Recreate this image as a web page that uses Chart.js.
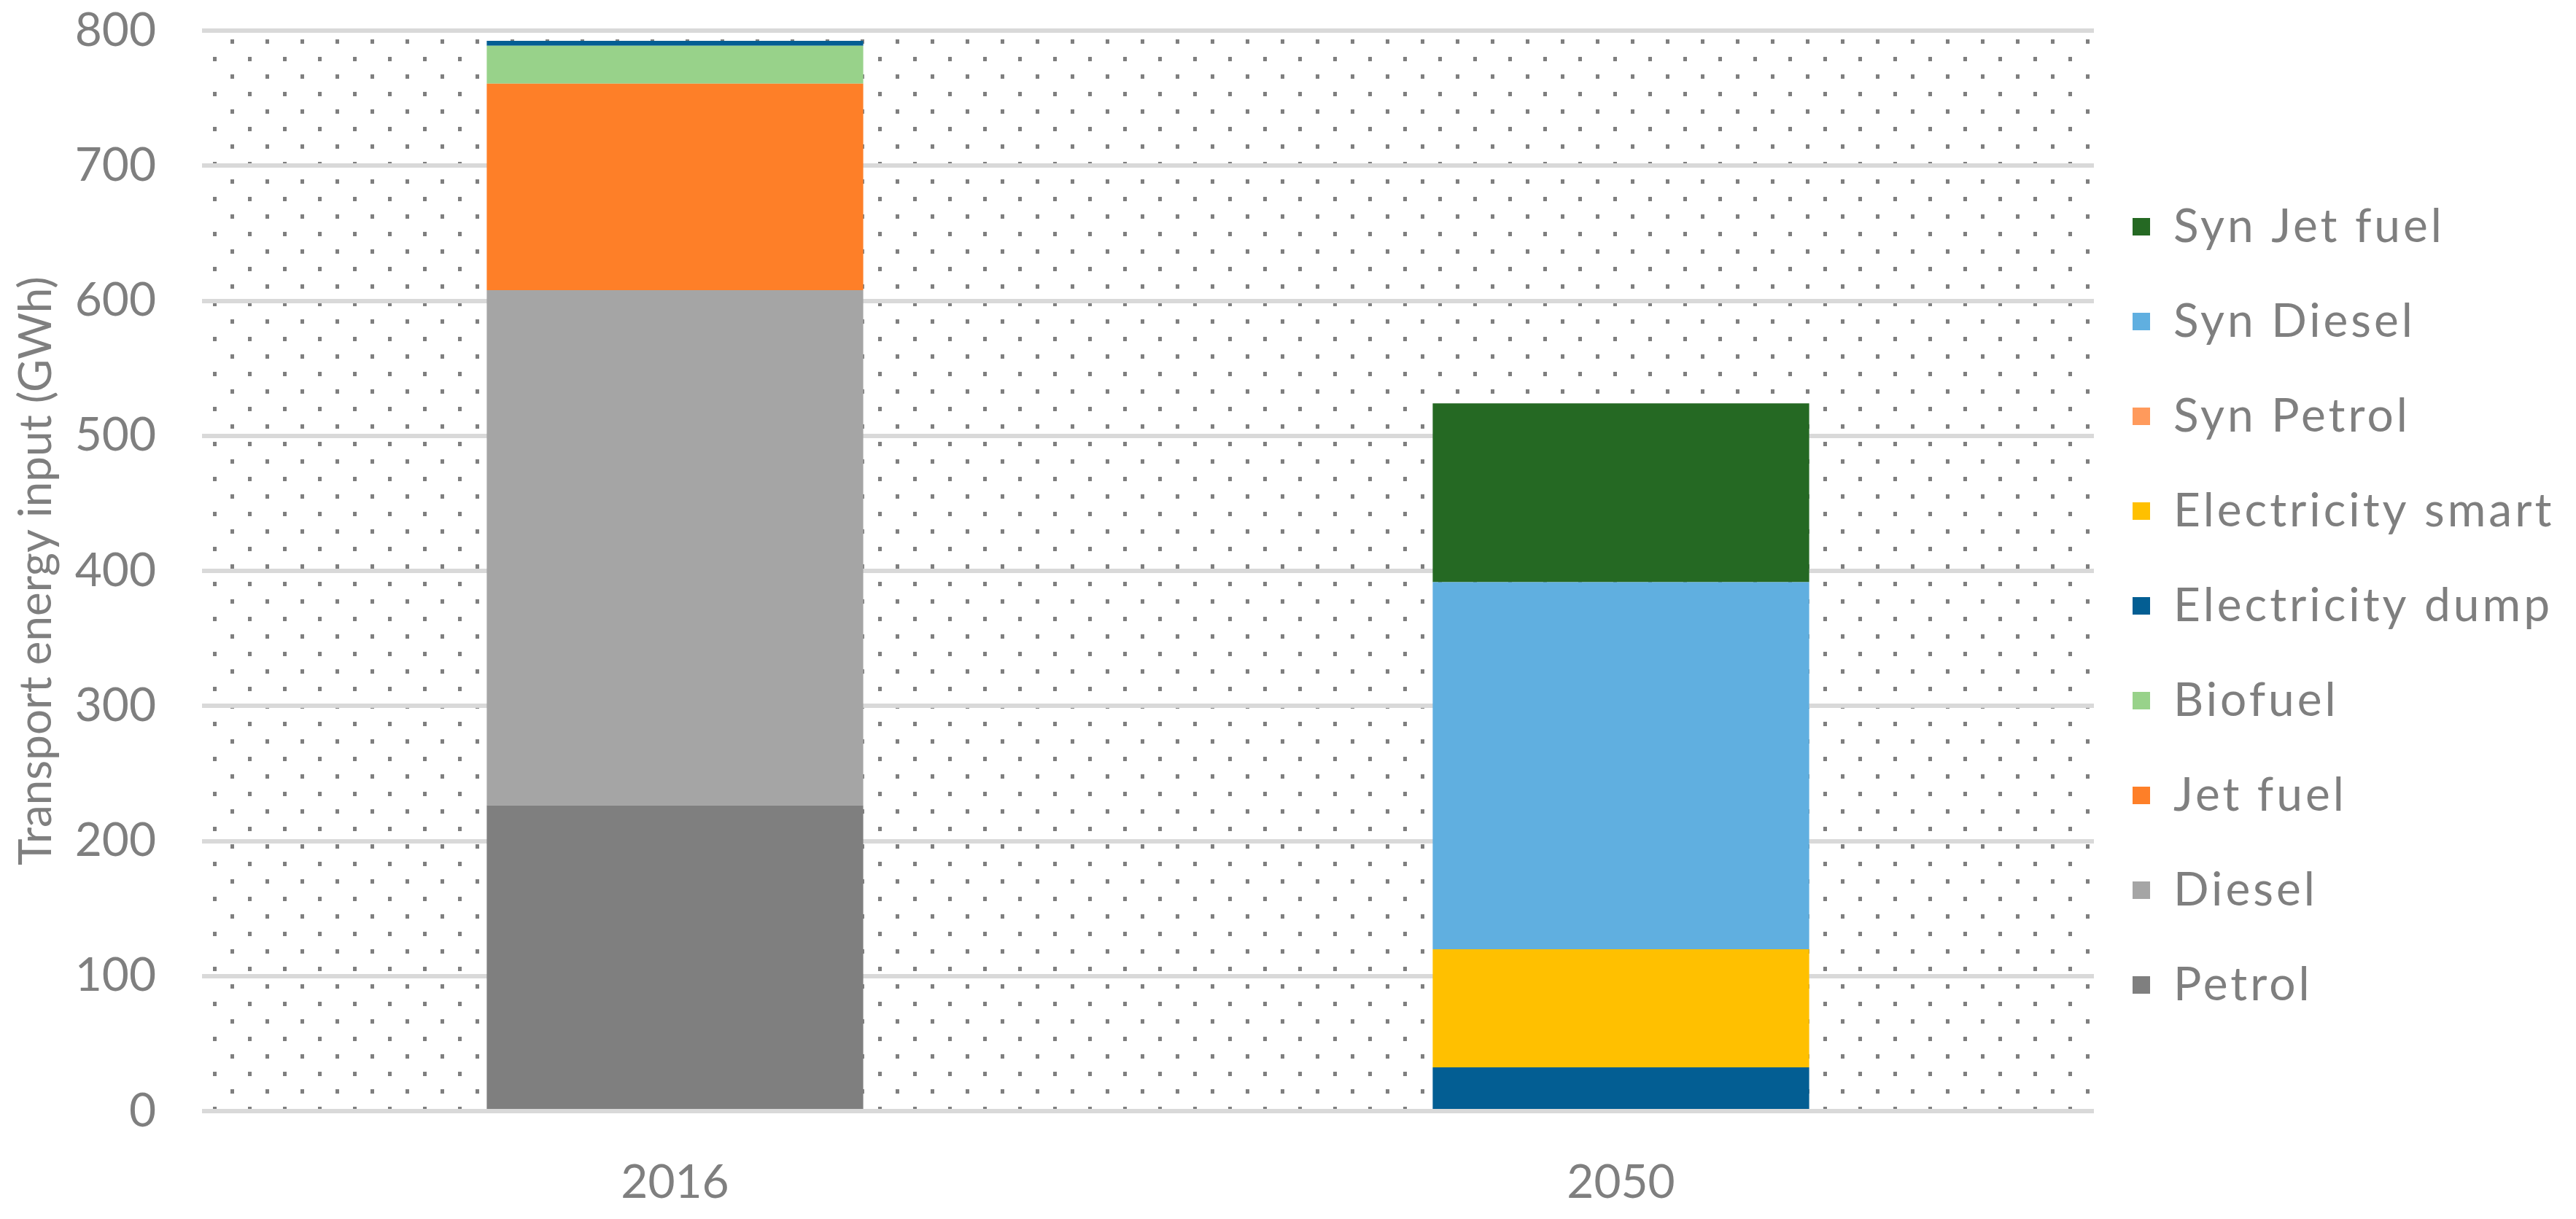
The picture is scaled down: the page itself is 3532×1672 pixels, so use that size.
<!DOCTYPE html>
<html>
<head>
<meta charset="utf-8">
<script src="https://cdn.jsdelivr.net/npm/chart.js@4.4.1/dist/chart.umd.min.js"></script>
<style>
  html, body { margin: 0; padding: 0; background: #ffffff; }
  #wrap { width: 3532px; height: 1672px; }
</style>
</head>
<body>
<div id="wrap"><canvas id="c" width="3532" height="1672"></canvas></div>
<script>
// ---- data ----
const categories = ['2016', '2050'];
const seriesNames = ['Petrol', 'Diesel', 'Jet fuel', 'Biofuel', 'Electricity dump',
                     'Electricity smart', 'Syn Petrol', 'Syn Diesel', 'Syn Jet fuel'];
const petrol           = [226.4, 0];
const diesel           = [381.4, 0];
const jetFuel          = [152.9, 0];
const biofuel          = [28.1, 0];
const electricityDump  = [3.7, 32.4];
const electricitySmart = [0, 87.5];
const synPetrol        = [0, 0];
const synDiesel        = [0, 271.8];
const synJetFuel       = [0, 132.3];
const yTickMin = 0, yTickMax = 800, yTickStep = 100;
const yTitle = 'Transport energy input (GWh)';

// ---- styles ----
const seriesColors = ['#7f7f7f', '#a5a5a5', '#fe7f28', '#98d28a', '#035e93',
                      '#ffc000', '#ff9a5c', '#60afe0', '#256923'];
const seriesData = [petrol, diesel, jetFuel, biofuel, electricityDump,
                    electricitySmart, synPetrol, synDiesel, synJetFuel];
const textColor = '#7f7f7f';
const fontFamily = 'Lato, "Open Sans", sans-serif';
const fontSize = 64;

const dotPattern = {
  id: 'dotPattern',
  beforeDraw(chart) {
    const { ctx, chartArea: a } = chart;
    ctx.save();
    ctx.fillStyle = '#ffffff';
    ctx.fillRect(0, 0, chart.width, chart.height);
    const tile = document.createElement('canvas');
    tile.width = 48; tile.height = 48;
    const t = tile.getContext('2d');
    t.fillStyle = '#7f7f7f';
    t.fillRect(28, 6, 5, 6);
    t.fillRect(4, 30, 5, 6);
    ctx.fillStyle = ctx.createPattern(tile, 'repeat');
    ctx.fillRect(a.left, a.top, a.right - a.left, a.bottom - a.top);
    ctx.restore();
  }
};

const legendLayout = {
  id: 'legendLayout',
  beforeLayout(chart) {
    const lg = chart.legend;
    if (lg && !lg._fixedFit) {
      const origFit = lg.fit;
      lg.fit = function () { origFit.call(this); this.width = 661; };
      const origDraw = lg.draw;
      lg.draw = function (...args) {
        const c = this.ctx;
        const prev = c.letterSpacing;
        c.letterSpacing = '4px';
        origDraw.apply(this, args);
        c.letterSpacing = prev;
      };
      lg._fixedFit = true;
    }
  },
  afterLayout(chart) {
    const lg = chart.legend;
    lg.top = 0; lg.bottom = 1662; lg.height = 1662;
    lg.left = 2858;
  }
};

new Chart(document.getElementById('c'), {
  type: 'bar',
  data: {
    labels: categories,
    datasets: seriesNames.map((name, i) => ({
      label: name,
      data: seriesData[i],
      backgroundColor: seriesColors[i],
      borderWidth: 0,
      barPercentage: 0.398,
      categoryPercentage: 1
    }))
  },
  options: {
    responsive: false,
    animation: false,
    devicePixelRatio: 1,
    layout: { padding: { top: 42, left: 0, right: 0, bottom: 0 } },
    plugins: {
      legend: {
        position: 'right',
        reverse: true,
        labels: {
          font: { family: fontFamily, size: fontSize },
          color: textColor,
          boxWidth: 24,
          boxHeight: 24,
          padding: 66
        }
      },
      tooltip: { enabled: false }
    },
    scales: {
      x: {
        stacked: true,
        grid: { display: false },
        border: { display: false },
        ticks: { font: { family: fontFamily, size: fontSize }, color: textColor, padding: 52 },
        afterFit(s) { s.height = 148; }
      },
      y: {
        stacked: true,
        min: yTickMin,
        max: yTickMax,
        ticks: { stepSize: yTickStep, font: { family: fontFamily, size: fontSize }, color: textColor, padding: 63 },
        grid: { color: '#d9d9d9', lineWidth: 6, drawTicks: false },
        border: { display: false },
        title: {
          display: true,
          text: yTitle,
          font: { family: fontFamily, size: 62 },
          color: textColor,
          padding: { top: 13, bottom: 0 }
        },
        afterFit(s) { s.width = 277; s.paddingTop = 0; s.paddingBottom = 0; }
      }
    }
  },
  plugins: [dotPattern, legendLayout]
});
</script>
</body>
</html>
